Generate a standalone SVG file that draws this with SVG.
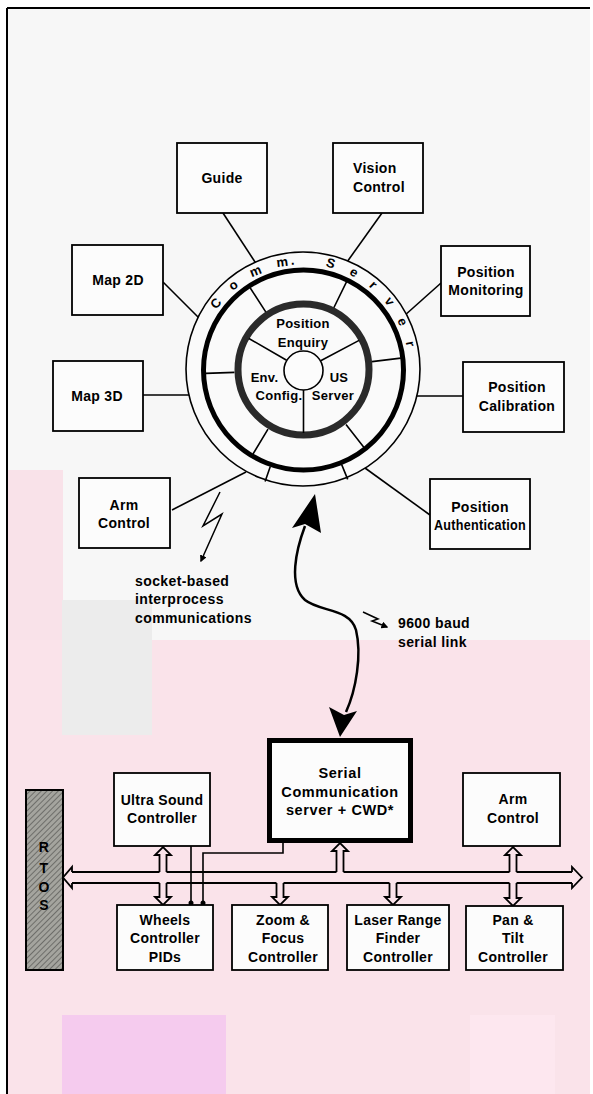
<svg xmlns="http://www.w3.org/2000/svg" width="593" height="1094" viewBox="0 0 593 1094">
<defs>
<style>
.box{fill:#fcfcfc;stroke:#000;stroke-width:1.8}
.lbl{font-family:"Liberation Sans",Arial,sans-serif;font-weight:bold;font-size:14px;letter-spacing:0.3px;text-anchor:middle;fill:#000}
.lft{text-anchor:start}
.inner{font-size:13px}
.big{font-size:14.5px;letter-spacing:0.6px}
.note{text-anchor:start;letter-spacing:0.4px}
.ring{font-size:13px;text-anchor:start}
.ln{stroke:#000;stroke-width:1.6;fill:none}
.bus{stroke:#000;stroke-width:1.8;fill:none;stroke-linejoin:miter}
.zig{stroke:#000;stroke-width:1.5;fill:none;stroke-linejoin:miter}
</style>
<pattern id="hatch" width="4" height="4" patternUnits="userSpaceOnUse" patternTransform="rotate(45)">
<rect width="4" height="4" fill="#a4a49e"/>
<line x1="0" y1="0" x2="0" y2="4" stroke="#5c5c58" stroke-width="1.5"/>
</pattern>
<marker id="ah" viewBox="0 0 10 10" refX="8" refY="5" markerWidth="7" markerHeight="7" orient="auto" markerUnits="userSpaceOnUse">
<path d="M0,0 L10,5 L0,10 z" fill="#000"/>
</marker>
<path id="arcText" d="M207.9,325.4 A105.5,105.5 0 0 1 408.6,360.8"/>
</defs>

<g id="background">
<rect x="0" y="0" width="593" height="1094" fill="#ffffff"/>
<rect x="7" y="8" width="583" height="1086" fill="#f7f7f7"/>
<rect x="8" y="470" width="55" height="624" fill="#f9e2e9"/>
<rect x="8" y="640" width="582" height="454" fill="#fae3ea"/>
<rect x="62" y="600" width="90" height="135" fill="#ececec"/>
<rect x="62" y="1015" width="164" height="79" fill="#f5cbee"/>
<rect x="470" y="1015" width="85" height="79" fill="#fde7ef"/>
<path d="M7,8 H590 M7,8 V1094" stroke="#000" stroke-width="2" fill="none"/>
</g>

<g id="connectors">
<line class="ln" x1="223" y1="213" x2="257" y2="265"/>
<line class="ln" x1="382" y1="213" x2="347" y2="262"/>
<line class="ln" x1="163" y1="282" x2="199" y2="318"/>
<line class="ln" x1="441" y1="283" x2="404" y2="316"/>
<line class="ln" x1="143" y1="395" x2="192" y2="395"/>
<line class="ln" x1="463" y1="396" x2="414" y2="396"/>
<line class="ln" x1="172" y1="510" x2="246" y2="472"/>
<line class="ln" x1="430" y1="515" x2="365" y2="468"/>
<polyline class="zig" points="220,492 203,526 222,514 201,561" marker-end="url(#ah)"/>
<polyline class="zig" points="363,612 378,619 372,621 387,627" marker-end="url(#ah)"/>
<path d="M305,526 C296,550 288,585 305,600 C320,612 350,608 356,630 C362,655 356,690 346,712" stroke="#000" stroke-width="2.5" fill="none"/>
<polygon points="315,494 321,533 305,524 292,528" fill="#000"/>
<polygon points="340,737 329,707 344,715 357,711" fill="#000"/>
<path class="bus" d="M72,872 H159.5 M166.5,872 H336.5 M343.5,872 H509.5 M516.5,872 H572 M72,883 H159.5 M166.5,883 H276.5 M283.5,883 H389.5 M396.5,883 H509.5 M516.5,883 H572"/>
<path class="bus" d="M72,872 V867 L63,877.5 L72,888 V883 M572,872 V867 L582,877.5 L572,888 V883"/>
<path class="bus" d="M159.5,872 V855 H155 L163,847 L171,855 H166.5 V872 M159.5,883 V897 H155 L163,905 L171,897 H166.5 V883"/>
<path class="bus" d="M336.5,872 V851 H332 L340,843 L348,851 H343.5 V872"/>
<path class="bus" d="M276.5,883 V897 H272 L280,905 L288,897 H283.5 V883"/>
<path class="bus" d="M389.5,883 V897 H385 L393,905 L401,897 H396.5 V883"/>
<path class="bus" d="M509.5,872 V855 H505 L513,847 L521,855 H516.5 V872 M509.5,883 V898 H505 L513,906 L521,898 H516.5 V883"/>
<path class="ln" d="M191,846 V903 M283,843 V853 H203 V903"/>
<circle cx="191" cy="903" r="2.5" fill="#000"/>
<circle cx="203" cy="903" r="2.5" fill="#000"/>
</g>

<g id="comm-server">
<circle cx="303" cy="369" r="117" fill="#fafafa" stroke="#000" stroke-width="1.6"/>
<path class="ln" d="M270.3,466.4 L265.1,481.6 M341.7,464.6 L347.7,479.4"/>
<circle cx="303.5" cy="370" r="100" fill="none" stroke="#000" stroke-width="5"/>
<path class="ln" d="M265.9,312.1 L250.1,287.8 M333.7,308 L346.5,281.9 M234.5,372.4 L205.6,373.4 M372,361.6 L400.8,358.1 M268,429.1 L253,454 M346,424.4 L363.8,447.2"/>
<circle cx="303.5" cy="369.5" r="65.5" fill="none" stroke="#2a2a2a" stroke-width="7"/>
<path class="ln" d="M320.7,360.8 L359.1,340.4 M303.5,389.5 L303.5,433 M286.6,360.3 L248.9,338.5"/>
<circle cx="303.5" cy="370.5" r="19.5" fill="#fcfcfc" stroke="#000" stroke-width="1.6"/>
<text class="lbl ring" dx="0 0 0 0 -13"><textPath href="#arcText" startOffset="17.4" style="letter-spacing:15.5px">Comm.</textPath><textPath href="#arcText" startOffset="141.2" style="letter-spacing:16px">Server</textPath></text>
<text class="lbl inner" x="303" y="328">Position</text>
<text class="lbl inner" x="303" y="347">Enquiry</text>
<text class="lbl inner" x="264.5" y="382">Env.</text>
<text class="lbl inner" x="279" y="400">Config.</text>
<text class="lbl inner" x="339" y="382">US</text>
<text class="lbl inner" x="333" y="400">Server</text>
</g>

<g id="guide"><rect class="box" x="177" y="143" width="90" height="70"/><text class="lbl" x="222" y="183">Guide</text></g>
<g id="vision-control"><rect class="box" x="333" y="143" width="90" height="70"/><text class="lbl lft" x="353" y="173">Vision</text><text class="lbl lft" x="353" y="192">Control</text></g>
<g id="map-2d"><rect class="box" x="72" y="245" width="91" height="70"/><text class="lbl" x="118" y="285">Map 2D</text></g>
<g id="position-monitoring"><rect class="box" x="441" y="246" width="89" height="70"/><text class="lbl" x="486" y="277">Position</text><text class="lbl" x="486" y="295">Monitoring</text></g>
<g id="map-3d"><rect class="box" x="53" y="361" width="90" height="70"/><text class="lbl" x="97" y="401">Map 3D</text></g>
<g id="position-calibration"><rect class="box" x="463" y="362" width="101" height="70"/><text class="lbl" x="517" y="392">Position</text><text class="lbl" x="517" y="411">Calibration</text></g>
<g id="arm-control-top"><rect class="box" x="79" y="478" width="91" height="70"/><text class="lbl" x="124" y="510">Arm</text><text class="lbl" x="124" y="528">Control</text></g>
<g id="position-authentication"><rect class="box" x="430" y="479" width="100" height="70"/><text class="lbl" x="480" y="512">Position</text><text class="lbl" x="480" y="530" textLength="92" lengthAdjust="spacingAndGlyphs">Authentication</text></g>

<g id="socket-note"><text class="lbl note" x="135" y="586">socket-based</text><text class="lbl note" x="135" y="604">interprocess</text><text class="lbl note" x="135" y="623">communications</text></g>
<g id="serial-note"><text class="lbl note" x="398" y="628">9600 baud</text><text class="lbl note" x="398" y="647">serial link</text></g>

<g id="rtos"><rect x="26" y="790" width="37" height="180" fill="url(#hatch)" stroke="#000" stroke-width="2"/><text class="lbl" x="44" y="852">R</text><text class="lbl" x="44" y="873">T</text><text class="lbl" x="44" y="892">O</text><text class="lbl" x="44" y="910">S</text></g>
<g id="ultra-sound"><rect class="box" x="114" y="773" width="96" height="73"/><text class="lbl" x="162" y="805">Ultra Sound</text><text class="lbl" x="162" y="823">Controller</text></g>
<g id="serial-comm"><rect x="269.5" y="740.5" width="141" height="100" fill="#fcfcfc" stroke="#000" stroke-width="5"/><text class="lbl big" x="340" y="778">Serial</text><text class="lbl big" x="340" y="797">Communication</text><text class="lbl big" x="340" y="815">server + CWD*</text></g>
<g id="arm-control-bottom"><rect class="box" x="463" y="773" width="97" height="73"/><text class="lbl" x="513" y="804">Arm</text><text class="lbl" x="513" y="823">Control</text></g>
<g id="wheels"><rect class="box" x="117" y="905" width="96" height="65"/><text class="lbl" x="165" y="925">Wheels</text><text class="lbl" x="165" y="943">Controller</text><text class="lbl" x="165" y="962">PIDs</text></g>
<g id="zoom-focus"><rect class="box" x="232" y="905" width="96" height="65"/><text class="lbl" x="283" y="925">Zoom &amp;</text><text class="lbl" x="283" y="943">Focus</text><text class="lbl" x="283" y="962">Controller</text></g>
<g id="laser"><rect class="box" x="347" y="905" width="102" height="65"/><text class="lbl" x="398" y="925">Laser Range</text><text class="lbl" x="398" y="943">Finder</text><text class="lbl" x="398" y="962">Controller</text></g>
<g id="pan-tilt"><rect class="box" x="466" y="906" width="97" height="64"/><text class="lbl" x="513" y="925">Pan &amp;</text><text class="lbl" x="513" y="943">Tilt</text><text class="lbl" x="513" y="962">Controller</text></g>
</svg>
